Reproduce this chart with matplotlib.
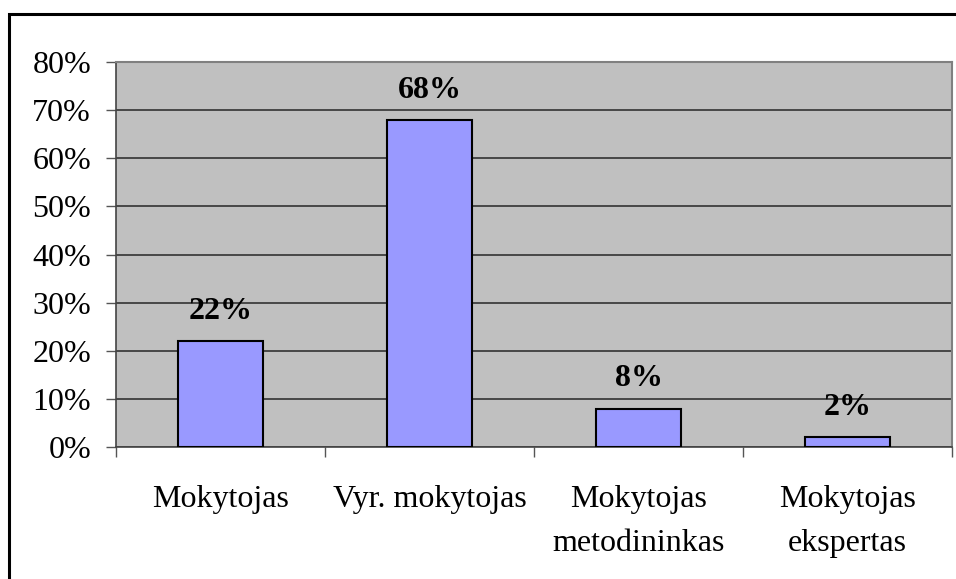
import matplotlib.pyplot as plt
from matplotlib.patches import Rectangle
import numpy as np

# categories and shares (%)
categories = ['Mokytojas', 'Vyr. mokytojas', 'Mokytojas\nmetodininkas', 'Mokytojas\nekspertas']
values = [22, 68, 8, 2]
yticks = [0, 10, 20, 30, 40, 50, 60, 70, 80]

plt.rcParams['font.family'] = ['Liberation Serif', 'DejaVu Serif']

fig = plt.figure(figsize=(9.56, 5.79), dpi=100)
ax = fig.add_axes([116/956, 1-447/579, (952-116)/956, (447-62)/579])

x = np.arange(len(categories))
ax.bar(x, values, width=0.41, color='#9999FF', edgecolor='black', linewidth=1.5, zorder=3)

# value labels above bars
for xi, v in zip(x, values):
    ax.annotate(f'{v}%', (xi, v), xytext=(0, 16), textcoords='offset points',
                ha='center', va='baseline', fontsize=23, fontweight='bold', zorder=4)

ax.set_facecolor('#C0C0C0')
ax.set_xlim(-0.5, len(categories)-0.5)
ax.set_ylim(0, 80)
ax.set_yticks(yticks)
ax.set_yticklabels([f'{t}%' for t in yticks], fontsize=23)
ax.yaxis.grid(True, color='#333333', linewidth=1.2, zorder=1)
ax.set_axisbelow(True)

# category boundary ticks, labels in between
ax.set_xticks(np.arange(len(categories)+1) - 0.5)
ax.set_xticklabels([])
ax.set_xticks(x, minor=True)
ax.set_xticklabels(categories, minor=True, fontsize=23, linespacing=1.72, va='top')
ax.tick_params(axis='x', which='minor', length=0, pad=27)
ax.tick_params(axis='x', which='major', length=7, width=1, color='#555555', direction='out')
ax.tick_params(axis='y', length=7, width=1, color='#555555', pad=11)

for s in ['top', 'right']:
    ax.spines[s].set_color('#808080')
    ax.spines[s].set_linewidth(1.5)
for s in ['left', 'bottom']:
    ax.spines[s].set_color('#444444')
    ax.spines[s].set_linewidth(1.2)

# outer chart frame
fig.patches.append(Rectangle((9/956, -0.1), 1.2, 1-14/579+0.1, transform=fig.transFigure,
                             fill=False, edgecolor='black', linewidth=2.2))

fig.savefig('out.png', dpi=100)
